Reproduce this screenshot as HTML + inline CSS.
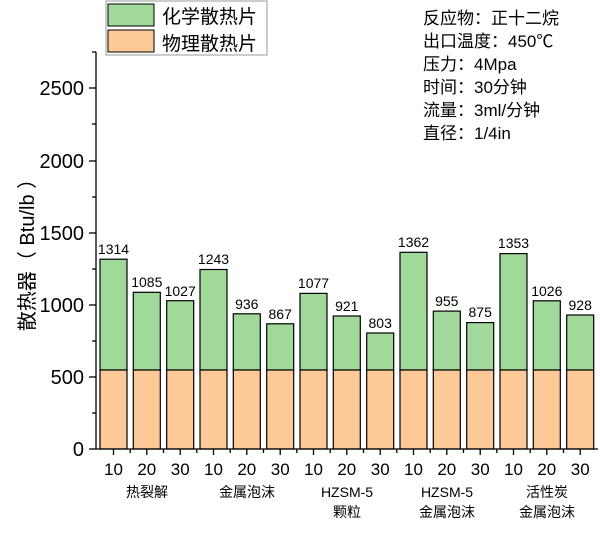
<!DOCTYPE html><html><head><style>body{margin:0;background:#fff}text{font-family:"Liberation Sans","Noto Sans CJK SC",sans-serif;fill:#000}</style></head><body>
<svg width="600" height="534" xmlns="http://www.w3.org/2000/svg">
<g stroke="#000" stroke-width="1.2" fill="#a1d99b">
<rect x="100" y="259.2" width="27" height="110.8"/>
<rect x="133.3" y="292.3" width="27" height="77.7"/>
<rect x="166.7" y="300.7" width="27" height="69.3"/>
<rect x="200" y="269.5" width="27" height="100.5"/>
<rect x="233.3" y="313.8" width="27" height="56.2"/>
<rect x="266.7" y="323.8" width="27" height="46.2"/>
<rect x="300" y="293.4" width="27" height="76.6"/>
<rect x="333.3" y="316" width="27" height="54"/>
<rect x="366.7" y="333" width="27" height="37"/>
<rect x="400" y="252.3" width="27" height="117.7"/>
<rect x="433.3" y="311.1" width="27" height="58.9"/>
<rect x="466.7" y="322.6" width="27" height="47.4"/>
<rect x="500" y="253.6" width="27" height="116.4"/>
<rect x="533.3" y="300.8" width="27" height="69.2"/>
<rect x="566.7" y="315" width="27" height="55"/>
</g>
<g stroke="#000" stroke-width="1.2" fill="#fdc997">
<rect x="100" y="370" width="27" height="79"/>
<rect x="133.3" y="370" width="27" height="79"/>
<rect x="166.7" y="370" width="27" height="79"/>
<rect x="200" y="370" width="27" height="79"/>
<rect x="233.3" y="370" width="27" height="79"/>
<rect x="266.7" y="370" width="27" height="79"/>
<rect x="300" y="370" width="27" height="79"/>
<rect x="333.3" y="370" width="27" height="79"/>
<rect x="366.7" y="370" width="27" height="79"/>
<rect x="400" y="370" width="27" height="79"/>
<rect x="433.3" y="370" width="27" height="79"/>
<rect x="466.7" y="370" width="27" height="79"/>
<rect x="500" y="370" width="27" height="79"/>
<rect x="533.3" y="370" width="27" height="79"/>
<rect x="566.7" y="370" width="27" height="79"/>
</g>
<g font-size="14" text-anchor="middle">
<text x="113.5" y="254">1314</text>
<text x="146.8" y="287">1085</text>
<text x="180.2" y="296">1027</text>
<text x="213.5" y="264">1243</text>
<text x="246.8" y="309">936</text>
<text x="280.2" y="319">867</text>
<text x="313.5" y="288">1077</text>
<text x="346.8" y="311">921</text>
<text x="380.2" y="328">803</text>
<text x="413.5" y="247">1362</text>
<text x="446.8" y="306">955</text>
<text x="480.2" y="317">875</text>
<text x="513.5" y="248">1353</text>
<text x="546.8" y="296">1026</text>
<text x="580.2" y="310">928</text>
</g>
<g font-size="17" text-anchor="middle">
<text x="113.5" y="475">10</text><text x="146.8" y="475">20</text><text x="180.2" y="475">30</text>
<text x="213.5" y="475">10</text><text x="246.8" y="475">20</text><text x="280.2" y="475">30</text>
<text x="313.5" y="475">10</text><text x="346.8" y="475">20</text><text x="380.2" y="475">30</text>
<text x="413.5" y="475">10</text><text x="446.8" y="475">20</text><text x="480.2" y="475">30</text>
<text x="513.5" y="475">10</text><text x="546.8" y="475">20</text><text x="580.2" y="475">30</text>
</g>
<g stroke="#000" stroke-width="1.3">
<line x1="113.5" y1="449" x2="113.5" y2="455"/><line x1="146.8" y1="449" x2="146.8" y2="455"/><line x1="180.2" y1="449" x2="180.2" y2="455"/>
<line x1="213.5" y1="449" x2="213.5" y2="455"/><line x1="246.8" y1="449" x2="246.8" y2="455"/><line x1="280.2" y1="449" x2="280.2" y2="455"/>
<line x1="313.5" y1="449" x2="313.5" y2="455"/><line x1="346.8" y1="449" x2="346.8" y2="455"/><line x1="380.2" y1="449" x2="380.2" y2="455"/>
<line x1="413.5" y1="449" x2="413.5" y2="455"/><line x1="446.8" y1="449" x2="446.8" y2="455"/><line x1="480.2" y1="449" x2="480.2" y2="455"/>
<line x1="513.5" y1="449" x2="513.5" y2="455"/><line x1="546.8" y1="449" x2="546.8" y2="455"/><line x1="580.2" y1="449" x2="580.2" y2="455"/>
<line x1="130.2" y1="449" x2="130.2" y2="453"/><line x1="163.5" y1="449" x2="163.5" y2="453"/><line x1="196.8" y1="449" x2="196.8" y2="453"/>
<line x1="230.2" y1="449" x2="230.2" y2="453"/><line x1="263.5" y1="449" x2="263.5" y2="453"/><line x1="296.8" y1="449" x2="296.8" y2="453"/>
<line x1="330.2" y1="449" x2="330.2" y2="453"/><line x1="363.5" y1="449" x2="363.5" y2="453"/><line x1="396.8" y1="449" x2="396.8" y2="453"/>
<line x1="430.2" y1="449" x2="430.2" y2="453"/><line x1="463.5" y1="449" x2="463.5" y2="453"/><line x1="496.8" y1="449" x2="496.8" y2="453"/>
<line x1="530.2" y1="449" x2="530.2" y2="453"/><line x1="563.5" y1="449" x2="563.5" y2="453"/>
</g>
<line x1="96" y1="52" x2="96" y2="449" stroke="#000" stroke-width="1.3"/>
<line x1="96" y1="449" x2="598" y2="449" stroke="#000" stroke-width="1.3"/>
<g stroke="#000" stroke-width="1.3">
<line x1="89" y1="449" x2="96" y2="449"/><line x1="89" y1="377" x2="96" y2="377"/><line x1="89" y1="305" x2="96" y2="305"/><line x1="89" y1="233" x2="96" y2="233"/><line x1="89" y1="161" x2="96" y2="161"/><line x1="89" y1="88" x2="96" y2="88"/>
<line x1="92" y1="413" x2="96" y2="413"/><line x1="92" y1="341" x2="96" y2="341"/><line x1="92" y1="269" x2="96" y2="269"/><line x1="92" y1="197" x2="96" y2="197"/><line x1="92" y1="124" x2="96" y2="124"/><line x1="92" y1="52" x2="96" y2="52"/>
</g>
<g font-size="20" text-anchor="end">
<text x="84" y="456">0</text><text x="84" y="384">500</text><text x="84" y="312">1000</text><text x="84" y="240">1500</text><text x="84" y="168">2000</text><text x="84" y="95">2500</text>
</g>
<text transform="translate(34,250) rotate(-90)" font-size="20" text-anchor="middle">散热器（ Btu/lb ）</text>
<rect x="106" y="1" width="161" height="54" fill="#fff" stroke="#999"/>
<rect x="108" y="4" width="46" height="22" fill="#a1d99b" stroke="#000"/>
<rect x="108" y="30" width="46" height="22" fill="#fdc997" stroke="#000"/>
<text x="162" y="23" font-size="19">化学散热片</text>
<text x="162" y="50" font-size="19">物理散热片</text>
<g font-size="17">
<text x="423" y="24">反应物：正十二烷</text>
<text x="423" y="47">出口温度：450℃</text>
<text x="423" y="70">压力：4Mpa</text>
<text x="423" y="93">时间：30分钟</text>
<text x="423" y="116">流量：3ml/分钟</text>
<text x="423" y="139">直径：1/4in</text>
</g>
<g font-size="14" text-anchor="middle">
<text x="147" y="497">热裂解</text><text x="247" y="497">金属泡沫</text>
<text x="347" y="497">HZSM-5</text><text x="347" y="517">颗粒</text>
<text x="447" y="497">HZSM-5</text><text x="447" y="517">金属泡沫</text>
<text x="547" y="497">活性炭</text><text x="547" y="517">金属泡沫</text>
</g>
</svg></body></html>
